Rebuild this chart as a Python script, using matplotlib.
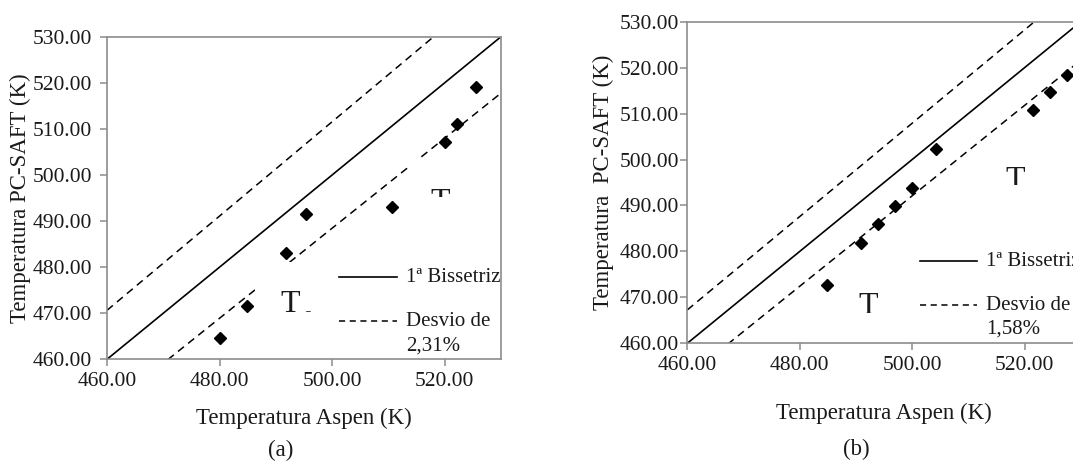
import numpy as np
import matplotlib
matplotlib.use("Agg")
import matplotlib.pyplot as plt
from matplotlib.patches import Rectangle
from matplotlib.ticker import MultipleLocator, FormatStrFormatter

plt.rcParams['font.family'] = ['Liberation Serif', 'DejaVu Serif']

# dados
A_ASPEN = [480.0, 484.8, 491.8, 495.4, 510.6, 520.0, 522.2, 525.6]
A_SAFT = [464.6, 471.6, 483.1, 491.5, 493.0, 507.1, 511.1, 519.1]
B_ASPEN = [484.9, 490.9, 493.9, 496.9, 500.0, 504.3, 521.5, 524.6, 527.5]
B_SAFT = [472.7, 481.9, 485.9, 489.9, 493.9, 502.2, 510.8, 514.6, 518.4]
DESVIO_A = 2.31
DESVIO_B = 1.58
LIM = [460, 530]

W, H = 1073, 463
TXT = '#1a1a1a'
GREY = '#8c8c8c'
DASH = (0, (5, 3.5))


def fx(px):
    return px / W


def fy(py):
    return 1 - py / H


fig = plt.figure(figsize=(W / 100, H / 100), dpi=100)
ax_a = fig.add_axes([fx(107), fy(359.3), 394 / W, 322.6 / H])
ax_b = fig.add_axes([fx(687.3), fy(343.3), 393.5 / W, 321.6 / H])


def draw_panel(ax, xs, ys, desvio, ylabel, ypad):
    x = np.array(LIM, dtype=float)
    ax.plot(x, x, color='black', lw=1.2, zorder=2)
    ax.plot(x, x * (1 + desvio / 100), color='black', lw=1.1, ls=DASH, zorder=2)
    ax.plot(x, x * (1 - desvio / 100), color='black', lw=1.1, ls=DASH, zorder=2)
    ax.plot(xs, ys, ls='none', marker='D', ms=6, color='black', zorder=4)

    ax.set_xlim(LIM)
    ax.set_ylim(LIM)
    ax.xaxis.set_major_locator(MultipleLocator(20))
    ax.yaxis.set_major_locator(MultipleLocator(10))
    ax.xaxis.set_major_formatter(FormatStrFormatter('%.2f'))
    ax.yaxis.set_major_formatter(FormatStrFormatter('%.2f'))
    for s in ax.spines.values():
        s.set_color(GREY)
        s.set_linewidth(1.2)
    ax.tick_params(axis='both', direction='out', length=5, width=1.1,
                   color=GREY, labelsize=15.5, labelcolor=TXT)
    ax.tick_params(axis='y', pad=ypad)
    ax.tick_params(axis='x', pad=4)

    ax.set_xlabel('Temperatura Aspen (K)', fontsize=16.5, color=TXT)
    ax.set_ylabel(ylabel, fontsize=16.5, color=TXT)


draw_panel(ax_a, A_ASPEN, A_SAFT, DESVIO_A, 'Temperatura PC-SAFT (K)', 6)
draw_panel(ax_b, B_ASPEN, B_SAFT, DESVIO_B, 'Temperatura  PC-SAFT (K)', 1)

ax_a.xaxis.set_label_coords(0.5, (359.3 - 418) / 322.6)
ax_a.xaxis.label.set_va('center')
ax_a.yaxis.set_label_coords((20 - 107) / 394, 0.5)
ax_a.yaxis.label.set_va('center')
ax_b.xaxis.set_label_coords(0.5, (343.3 - 413) / 321.6)
ax_b.xaxis.label.set_va('center')
ax_b.yaxis.set_label_coords((603 - 687.3) / 393.5, 0.5)
ax_b.yaxis.label.set_va('center')


# legendas desenhadas à mão (ficam fora do eixo)
def legend(x0, x1, y_solid, y_dash, y_line2, desvio_txt):
    fig.add_artist(plt.Line2D([fx(x0), fx(x1)], [fy(y_solid)] * 2,
                              color='black', lw=1.2))
    fig.add_artist(plt.Line2D([fx(x0), fx(x1)], [fy(y_dash)] * 2,
                              color='black', lw=1.1, ls=(0, (4, 3))))
    tx = x1 + 9
    fig.text(fx(tx), fy(y_solid + 1), '1ª Bissetriz', fontsize=15,
             color=TXT, va='center', ha='left')
    fig.text(fx(tx), fy(y_dash + 1), 'Desvio de', fontsize=15,
             color=TXT, va='center', ha='left')
    fig.text(fx(tx), fy(y_line2), desvio_txt, fontsize=15,
             color=TXT, va='center', ha='left')


legend(339, 397, 277, 321, 346, '2,31%')
legend(920, 977, 261, 305, 329, '1,58%')


# caixas de texto cortadas que aparecem no original
def caixa(x0, y0, x1, y1, tx, ty):
    r = Rectangle((fx(x0), fy(y1)), fx(x1) - fx(x0), fy(y0) - fy(y1),
                  transform=fig.transFigure, facecolor='white',
                  edgecolor='none', zorder=3)
    fig.add_artist(r)
    t = fig.text(fx(tx), fy(ty), 'T', fontsize=23, color=TXT,
                 ha='left', va='top', zorder=5)
    t.set_clip_path(r)
    s = fig.text(fx(tx + 23), fy(ty + 17), 'c', fontsize=12, color=TXT,
                 ha='left', va='top', zorder=5)
    s.set_clip_path(r)


caixa(255, 261.7, 314, 311.7, 280, 290)
caixa(409, 158, 464, 197, 430, 188)
caixa(852, 290, 902, 313, 858, 292)
caixa(1000, 160, 1062, 185, 1005, 166)

fig.text(fx(281), fy(450), '(a)', fontsize=16.5, color=TXT, ha='center', va='center')
fig.text(fx(856), fy(449), '(b)', fontsize=16.5, color=TXT, ha='center', va='center')

fig.savefig('out.png', dpi=100)
